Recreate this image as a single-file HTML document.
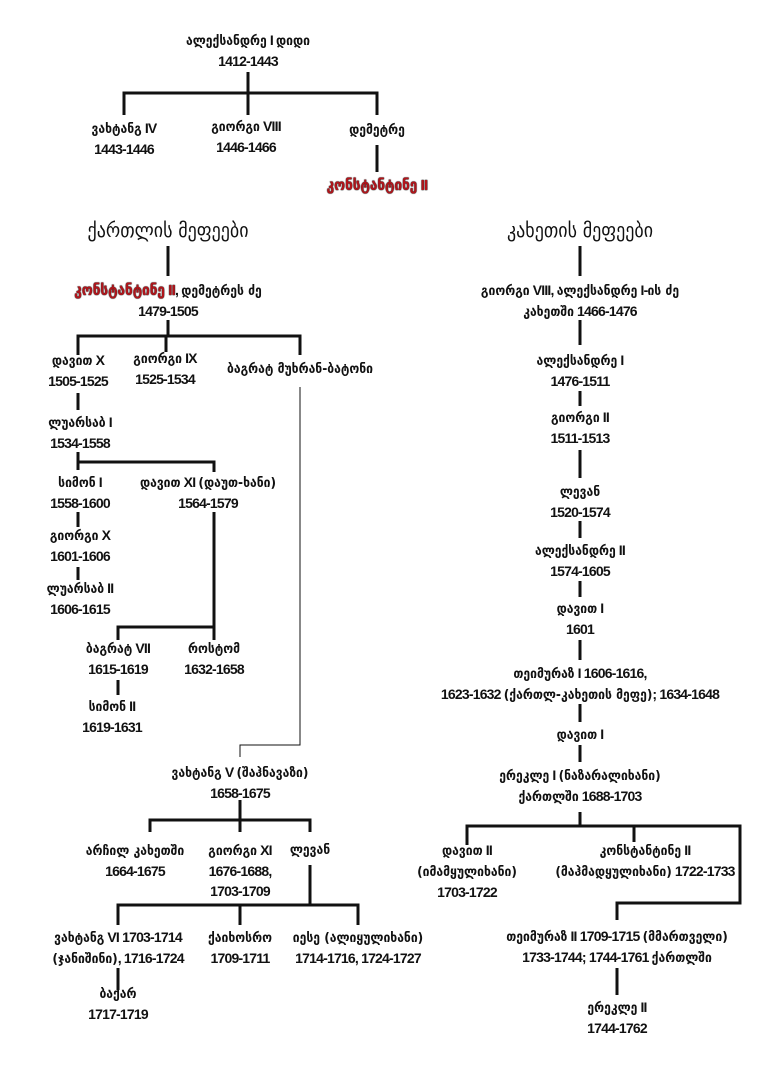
<!DOCTYPE html>
<html><head><meta charset="utf-8"><style>
html,body{margin:0;padding:0;background:#fff}
body{width:768px;height:1069px;position:relative;overflow:hidden;font-family:"Liberation Sans","DejaVu Sans Condensed",sans-serif;font-weight:bold;font-size:14px;letter-spacing:-0.8px;color:#111}
.l{position:absolute;transform:translateX(-50%);white-space:nowrap;text-align:center;line-height:20px}
.g{font-family:"DejaVu Sans Condensed","DejaVu Sans",sans-serif;font-size:13.5px;letter-spacing:0}
.t{font-size:20px;font-weight:normal;line-height:24px;letter-spacing:0;font-family:"DejaVu Sans Condensed","DejaVu Sans",sans-serif}
.r{color:#b3141a;font-size:15px;text-shadow:0 0 1px #000,0 0 1px #000}
svg{position:absolute;left:0;top:0}
</style></head><body>
<svg width="768" height="1069" stroke="#111" stroke-width="3" fill="none">
<path d="M248 72V93M124 115V93H377V115M248 93V115"/>
<path d="M377 145V172"/>
<path d="M168 246V276M580 246V276"/>
<path d="M168 320V336M78 355V336H300V355M166 336V352"/>
<path d="M580 320V345M580 391V406M580 450V478M580 521V538M580 581V597M580 640V660M580 704V722M580 745V762M580 812V826M467 845V826H740V903H617V920M634 826V842"/>
<path d="M617 968V995"/>
<path d="M78 393V410M78 452V470M78 462H214V472M78 512V527M78 567V580"/>
<path d="M214 512V627H118V640M214 627V640M118 680V695"/>
<path d="M240 800V820M150 832V820H310V832M240 820V832M310 865V905M118 925V905H358V925M240 905V925M118 968V990"/>
<path d="M300 387V745H240V757" stroke-width="1"/>
</svg>
<div class="l" style="left:248px;top:30px"><span class="g">ალექსანდრე</span> I <span class="g">დიდი</span><br>1412-1443</div>
<div class="l" style="left:124px;top:118px"><span class="g">ვახტანგ</span> IV<br>1443-1446</div>
<div class="l" style="left:246px;top:116px"><span class="g">გიორგი</span> VIII<br>1446-1466</div>
<div class="l g" style="left:377px;top:120px">დემეტრე</div>
<div class="l" style="left:377px;top:175px"><span class="g r">კონსტანტინე</span><span class="r"> II</span></div>
<div class="l t" style="left:168px;top:218px">ქართლის მეფეები</div>
<div class="l t" style="left:580px;top:218px">კახეთის მეფეები</div>
<div class="l" style="left:168px;top:280px"><span class="g r">კონსტანტინე</span><span class="r"> II</span>, <span class="g">დემეტრეს ძე</span><br>1479-1505</div>
<div class="l" style="left:78px;top:350px"><span class="g">დავით</span> X<br>1505-1525</div>
<div class="l" style="left:165px;top:348px"><span class="g">გიორგი</span> IX<br>1525-1534</div>
<div class="l g" style="left:300px;top:359px">ბაგრატ მუხრან-ბატონი</div>
<div class="l" style="left:80px;top:412px"><span class="g">ლუარსაბ</span> I<br>1534-1558</div>
<div class="l" style="left:80px;top:472px"><span class="g">სიმონ</span> I<br>1558-1600</div>
<div class="l" style="left:208px;top:472px"><span class="g">დავით</span> XI <span class="g">(დაუთ-ხანი)</span><br>1564-1579</div>
<div class="l" style="left:80px;top:525px"><span class="g">გიორგი</span> X<br>1601-1606</div>
<div class="l" style="left:80px;top:578px"><span class="g">ლუარსაბ</span> II<br>1606-1615</div>
<div class="l" style="left:118px;top:638px"><span class="g">ბაგრატ</span> VII<br>1615-1619</div>
<div class="l" style="left:214px;top:638px"><span class="g">როსტომ</span><br>1632-1658</div>
<div class="l" style="left:112px;top:696px"><span class="g">სიმონ</span> II<br>1619-1631</div>
<div class="l" style="left:240px;top:762px"><span class="g">ვახტანგ</span> V <span class="g">(შაჰნავაზი)</span><br>1658-1675</div>
<div class="l" style="left:135px;top:840px"><span class="g">არჩილ კახეთში</span><br>1664-1675</div>
<div class="l" style="left:240px;top:840px"><span class="g">გიორგი</span> XI<br>1676-1688,<br>1703-1709</div>
<div class="l g" style="left:310px;top:840px">ლევან</div>
<div class="l" style="left:118px;top:927px"><span class="g">ვახტანგ</span> VI 1703-1714<br><span class="g">(ჯანიშინი)</span>, 1716-1724</div>
<div class="l" style="left:240px;top:927px"><span class="g">ქაიხოსრო</span><br>1709-1711</div>
<div class="l" style="left:358px;top:927px"><span class="g">იესე (ალიყულიხანი)</span><br>1714-1716, 1724-1727</div>
<div class="l" style="left:118px;top:983px"><span class="g">ბაქარ</span><br>1717-1719</div>
<div class="l" style="left:580px;top:280px"><span class="g">გიორგი</span> VIII, <span class="g">ალექსანდრე</span> I-<span class="g">ის ძე</span><br><span class="g">კახეთში</span> 1466-1476</div>
<div class="l" style="left:580px;top:350px"><span class="g">ალექსანდრე</span> I<br>1476-1511</div>
<div class="l" style="left:580px;top:407px"><span class="g">გიორგი</span> II<br>1511-1513</div>
<div class="l" style="left:580px;top:481px"><span class="g">ლევან</span><br>1520-1574</div>
<div class="l" style="left:580px;top:540px"><span class="g">ალექსანდრე</span> II<br>1574-1605</div>
<div class="l" style="left:580px;top:598px"><span class="g">დავით</span> I<br>1601</div>
<div class="l" style="left:580px;top:663px"><span class="g">თეიმურაზ</span> I 1606-1616,<br>1623-1632 <span class="g">(ქართლ-კახეთის მეფე)</span>; 1634-1648</div>
<div class="l" style="left:580px;top:724px"><span class="g">დავით</span> I</div>
<div class="l" style="left:580px;top:765px"><span class="g">ერეკლე</span> I <span class="g">(ნაზარალიხანი)</span><br><span class="g">ქართლში</span> 1688-1703</div>
<div class="l" style="left:467px;top:840px"><span class="g">დავით</span> II<br><span class="g">(იმამყულიხანი)</span><br>1703-1722</div>
<div class="l" style="left:645px;top:840px"><span class="g">კონსტანტინე</span> II<br><span class="g">(მაჰმადყულიხანი)</span> 1722-1733</div>
<div class="l" style="left:617px;top:926px"><span class="g">თეიმურაზ</span> II 1709-1715 <span class="g">(მმართველი)</span><br>1733-1744; 1744-1761 <span class="g">ქართლში</span></div>
<div class="l" style="left:617px;top:997px"><span class="g">ერეკლე</span> II<br>1744-1762</div>
</body></html>
